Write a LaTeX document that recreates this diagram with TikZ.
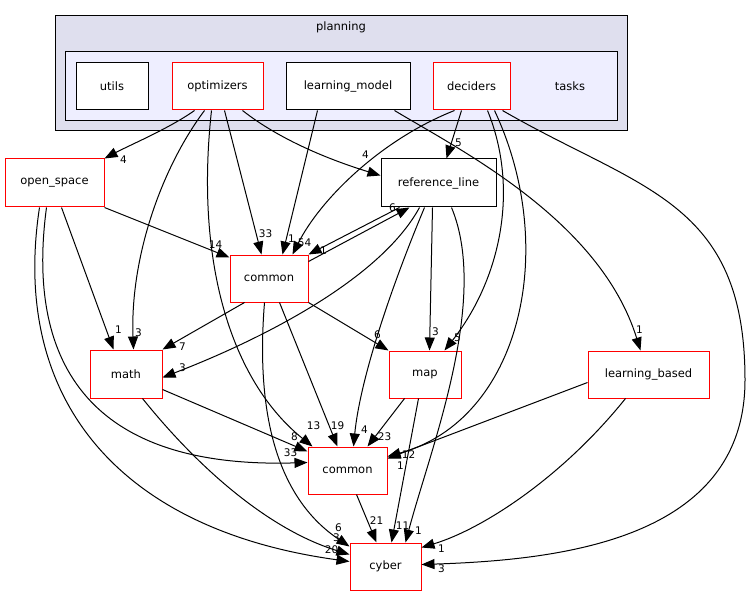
\documentclass[tikz,border=0pt]{standalone}
\usepackage{fontspec}
\setmainfont{DejaVu Sans}
\usetikzlibrary{arrows.meta}
\tikzset{
  box/.style={draw=black,line width=1pt,fill=white,minimum height=47pt,inner sep=0pt,font=\fontsize{11.5}{13}\selectfont},
  redbox/.style={box,draw=red},
  dep/.style={line width=1pt,-{Triangle[length=13pt,width=10pt]}},
  lbl/.style={pos=1,inner sep=0pt,font=\fontsize{10.5}{12}\selectfont}
}
\begin{document}
\begin{tikzpicture}[x=1pt,y=-1pt]
		\useasboundingbox(0,0)rectangle(752,596);
		% clusters
		\draw[line width=1pt,fill={rgb,255:red,223;green,223;blue,238}](55,16)rectangle(627,131);
		\node[font=\fontsize{11.5}{13}\selectfont](planning)at(341,27){planning};
		\draw[line width=1pt,fill={rgb,255:red,238;green,238;blue,255}](65,52)rectangle(617,121);
		\node[font=\fontsize{11.5}{13}\selectfont](tasks)at(570,86){tasks};
		% directories
		\node[box,minimum width=72pt](utils)at(112,86.5){utils};
		\node[redbox,minimum width=91pt](optimizers)at(217.5,86.5){optimizers};
		\node[box,minimum width=124pt](learning_model)at(348,86.5){learning\_model};
		\node[redbox,minimum width=77pt](deciders)at(471.5,86.5){deciders};
		\node[redbox,minimum width=99pt,minimum height=48pt](open_space)at(54.5,183){open\_space};
		\node[box,minimum width=115pt,minimum height=48pt](reference_line)at(438.5,183){reference\_line};
		\node[redbox,minimum width=78pt](commonA)at(269,278.5){common};
		\node[redbox,minimum width=72pt,minimum height=48pt](math)at(126,374){math};
		\node[redbox,minimum width=72pt](map)at(425,374.5){map};
		\node[redbox,minimum width=121pt](learning_based)at(648.5,374.5){learning\_based};
		\node[redbox,minimum width=79pt](commonB)at(347.5,470.5){common};
		\node[redbox,minimum width=71pt](cyber)at(385.5,566.5){cyber};
		% optimizers
		\draw[dep]([xshift=23pt]optimizers.south west)..controls(170,128)and(130,145)..node[lbl,shift={(19,1)}]{4}(open_space.north east);
		\draw[dep]([xshift=33pt]optimizers.south west)..controls(160,170)and(130,260)..node[lbl,shift={(5,-17)}]{3}([xshift=44pt]math.north west);
		\draw[dep]([xshift=40pt]optimizers.south west)..controls(195,260)and(230,380)..node[lbl,shift={(1,-21)}]{13}([xshift=5pt]commonB.north west);
		\draw[dep]([xshift=53pt]optimizers.south west)--node[lbl,shift={(4,-21)}]{33}([xshift=32pt]commonA.north west);
		\draw[dep]([xshift=71pt]optimizers.south west)..controls(280,140)and(330,160)..node[lbl,shift={(-15,-21)}]{4}([yshift=-17pt]reference_line.north west);
		% learning_model
		\draw[dep]([xshift=32pt]learning_model.south west)--node[lbl,shift={(9,-16)}]{1}([xshift=53pt]commonA.north west);
		\draw[dep]([xshift=109pt]learning_model.south west)..controls(460,150)and(600,220)..node[lbl,shift={(-1,-21)}]{1}([xshift=53pt]learning_based.north west);
		% deciders
		\draw[dep]([xshift=22pt]deciders.south west)..controls(380,140)and(320,200)..node[lbl,shift={(12,-12)}]{54}([xshift=63pt]commonA.north west);
		\draw[dep]([xshift=29pt]deciders.south west)--node[lbl,shift={(12,-16)}]{5}([xshift=66pt]reference_line.north west);
		\draw[dep]([xshift=55pt]deciders.south west)..controls(520,190)and(500,280)..node[lbl,shift={(13,-13)}]{5}([xshift=56pt]map.north west);
		\draw[dep]([xshift=62pt]deciders.south west)..controls(560,250)and(520,420)..node[lbl,shift={(21,-2)}]{12}([yshift=-10pt]commonB.north east);
		\draw[dep]([xshift=70pt]deciders.south west)..controls(640,190)and(745,200)..(745,380)..controls(745,540)and(560,560)..node[lbl,shift={(20,4)}]{3}([yshift=-22pt]cyber.north east);
		% open_space
		\draw[dep](open_space.south east)--node[lbl,shift={(-14,-13)}]{14}([yshift=-3pt]commonA.north west);
		\draw[dep]([xshift=57pt]open_space.south west)--node[lbl,shift={(5,-20)}]{1}([xshift=24pt]math.north west);
		\draw[dep]([xshift=42pt]open_space.south west)..controls(30,330)and(60,470)..node[lbl,shift={(-17,-10)}]{33}([yshift=-16pt]commonB.north west);
		\draw[dep]([xshift=35pt]open_space.south west)..controls(10,400)and(120,530)..node[lbl,shift={(-18,-12)}]{20}([yshift=-19pt]cyber.north west);
		% reference_line
		\draw[dep]([xshift=19pt]reference_line.south west)--node[lbl,shift={(15,-4)}]{1}(commonA.north east);
		\draw[dep]([yshift=-7pt]commonA.north east)--node[lbl,shift={(-17,0)}]{6}([xshift=29pt]reference_line.south west);
		\draw[dep]([xshift=39pt]reference_line.south west)..controls(380,280)and(260,340)..node[lbl,shift={(20,-10)}]{3}([yshift=-28pt]math.north east);
		\draw[dep]([xshift=52pt]reference_line.south west)--node[lbl,shift={(6,-19)}]{3}([xshift=41pt]map.north west);
		\draw[dep]([xshift=44pt]reference_line.south west)..controls(390,290)and(360,380)..node[lbl,shift={(11,-17)}]{4}([xshift=46pt]commonB.north west);
		\draw[dep]([xshift=71pt]reference_line.south west)..controls(490,300)and(430,450)..node[lbl,shift={(13,-12)}]{1}([xshift=56pt]cyber.north west);
		% common
		\draw[dep]([xshift=15pt]commonA.south west)--node[lbl,shift={(20,-3)}]{7}(math.north east);
		\draw[dep](commonA.south east)--node[lbl,shift={(-11,-16)}]{6}(map.north west);
		\draw[dep]([xshift=50pt]commonA.south west)--node[lbl,shift={(0,-21)}]{19}([xshift=30pt]commonB.north west);
		\draw[dep]([xshift=35pt]commonA.south west)..controls(255,420)and(280,500)..node[lbl,shift={(-11,-19)}]{6}([yshift=-4pt]cyber.north west);
		% math, map, learning_based
		\draw[dep]([yshift=9pt]math.south east)--node[lbl,shift={(-13,-15)}]{8}([yshift=-5pt]commonB.north west);
		\draw[dep]([xshift=53pt]math.south west)..controls(200,470)and(270,530)..node[lbl,shift={(-13,-17)}]{3}([yshift=-12pt]cyber.north west);
		\draw[dep]([xshift=16pt]map.south west)--node[lbl,shift={(17,-10)}]{23}([xshift=60pt]commonB.north west);
		\draw[dep]([xshift=30pt]map.south west)--node[lbl,shift={(11,-17)}]{11}([xshift=42pt]cyber.north west);
		\draw[dep]([yshift=16pt]learning_based.south west)--node[lbl,shift={(13,7)}]{1}([yshift=-12pt]commonB.north east);
		\draw[dep]([xshift=38pt]learning_based.south west)..controls(560,480)and(480,530)..node[lbl,shift={(20,1)}]{1}([yshift=-5pt]cyber.north east);
		\draw[dep]([xshift=49pt]commonB.south west)--node[lbl,shift={(0,-22)}]{21}([xshift=27pt]cyber.north west);
		\end{tikzpicture}
\end{document}
